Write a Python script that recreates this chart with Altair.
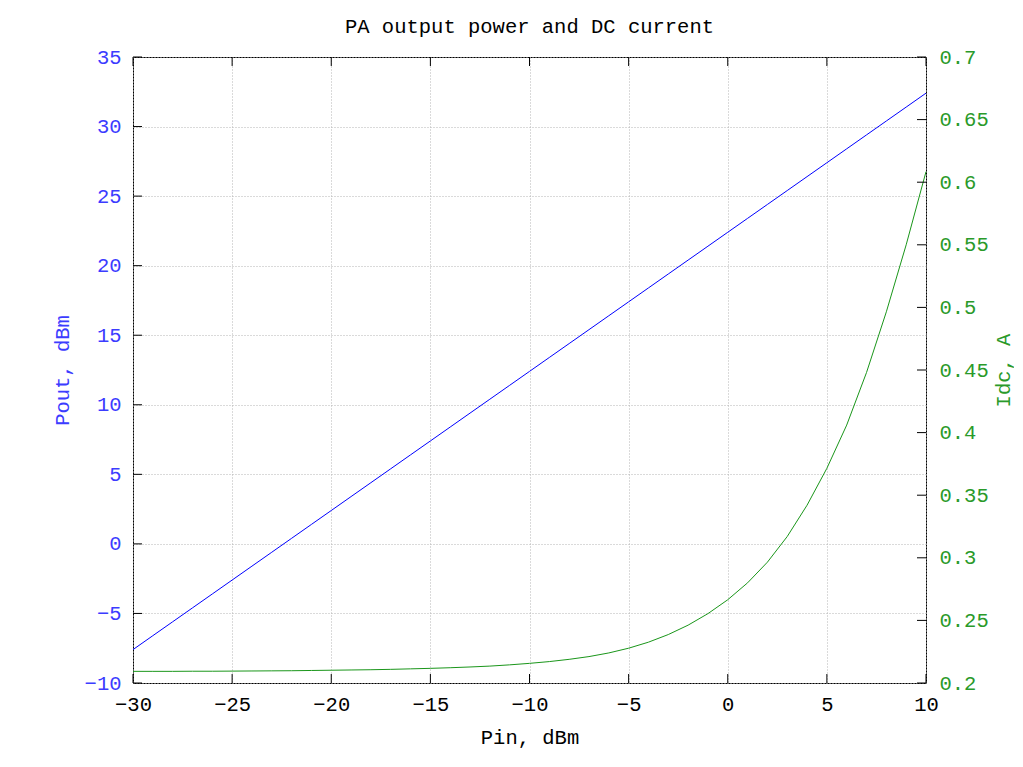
import altair as alt
import pandas as pd

# ---- data ----
pin = [-30, -29, -28, -27, -26, -25, -24, -23, -22, -21, -20, -19, -18, -17, -16, -15,
       -14, -13, -12, -11, -10, -9, -8, -7, -6, -5, -4, -3, -2, -1, 0, 1, 2, 3, 4, 5,
       6, 7, 8, 9, 10]
pout = [-7.6, -6.6, -5.6, -4.6, -3.6, -2.6, -1.6, -0.6, 0.4, 1.4, 2.4, 3.4, 4.4, 5.4,
        6.4, 7.4, 8.4, 9.4, 10.4, 11.4, 12.4, 13.4, 14.4, 15.4, 16.4, 17.4, 18.4, 19.4,
        20.4, 21.4, 22.4, 23.4, 24.4, 25.4, 26.4, 27.4, 28.4, 29.4, 30.4, 31.4, 32.4]
idc = [0.2093, 0.2093, 0.2093, 0.2094, 0.2094, 0.2095, 0.2096, 0.2097, 0.2098, 0.2100,
       0.2102, 0.2104, 0.2106, 0.2109, 0.2113, 0.2117, 0.2122, 0.2128, 0.2135, 0.2145,
       0.2157, 0.2171, 0.2189, 0.2211, 0.2240, 0.2278, 0.2326, 0.2387, 0.2462, 0.2554,
       0.2665, 0.2800, 0.2965, 0.3170, 0.3420, 0.3715, 0.4060, 0.4480, 0.4965, 0.5500,
       0.6084]
x_ticks = [-30, -25, -20, -15, -10, -5, 0, 5, 10]
y1_ticks = [-10, -5, 0, 5, 10, 15, 20, 25, 30, 35]
y2_ticks = [0.2, 0.25, 0.3, 0.35, 0.4, 0.45, 0.5, 0.55, 0.6, 0.65, 0.7]

df = pd.DataFrame({"pin": pin, "pout": pout, "idc": idc})
dfx = pd.DataFrame({"pin": x_ticks})
dfy1 = pd.DataFrame({"pout": y1_ticks})
dfy2 = pd.DataFrame({"idc": y2_ticks})

FONT = "Liberation Mono"
FS = 20.5
W, H = 793, 626
TICK = 9
BLUE = "#0000ff"
BLUE_TXT = "#3c3cff"
GREEN = "#1a961a"
GREEN_TXT = "#2a9a2a"
GRID = "#b4b4b4"

xscale = alt.Scale(domain=[-30, 10], nice=False, zero=False)
y1scale = alt.Scale(domain=[-10, 35], nice=False, zero=False)
y2scale = alt.Scale(domain=[0.2, 0.7], nice=False, zero=False)

x_axis = alt.Axis(
    values=x_ticks, title="Pin, dBm", grid=True, gridDash=[1, 2], gridColor=GRID,
    gridWidth=1, ticks=False, domain=False, labelFont=FONT, labelFontSize=FS,
    labelColor="black", labelPadding=11, labelFlush=False, labelOverlap=False,
    titleFont=FONT, titleFontSize=FS, titleFontWeight="normal", titleColor="black",
    titleY=60, titleBaseline="alphabetic",
)
y1_axis = alt.Axis(
    values=y1_ticks, title="Pout, dBm", orient="left", grid=True, gridDash=[1, 2],
    gridColor=GRID, gridWidth=1, ticks=False, domain=False, labelFont=FONT,
    labelFontSize=FS, labelColor=BLUE_TXT, labelPadding=12, labelFlush=False,
    labelOverlap=False, titleFont=FONT, titleFontSize=FS, titleFontWeight="normal",
    titleColor=BLUE_TXT, titleAngle=270, titleX=-71, titleY=H / 2,
    titleBaseline="middle", titleAlign="center",
)
y2_axis = alt.Axis(
    values=y2_ticks, title="Idc, A", orient="right", grid=False, ticks=False,
    domain=False, format=".2~f", labelFont=FONT, labelFontSize=FS,
    labelColor=GREEN_TXT, labelPadding=13, labelFlush=False, labelOverlap=False,
    titleFont=FONT, titleFontSize=FS, titleFontWeight="normal", titleColor=GREEN_TXT,
    titleAngle=270, titleX=77, titleY=H / 2, titleBaseline="middle",
    titleAlign="center",
)

X = alt.X("pin:Q", scale=xscale, axis=x_axis)
Y1 = alt.Y("pout:Q", scale=y1scale, axis=y1_axis)
Y2 = alt.Y("idc:Q", scale=y2scale, axis=y2_axis)

blue_line = alt.Chart(df).mark_line(color=BLUE, strokeWidth=1).encode(x=X, y=Y1)

xt_bottom = alt.Chart(dfx).mark_rule(color="black", strokeWidth=1).encode(
    x=X, y=alt.value(H), y2=alt.value(H - TICK),
)
xt_top = alt.Chart(dfx).mark_rule(color="black", strokeWidth=1).encode(
    x=X, y=alt.value(0), y2=alt.value(TICK),
)
y1t = alt.Chart(dfy1).mark_rule(color="black", strokeWidth=1).encode(
    y=Y1, x=alt.value(0), x2=alt.value(TICK),
)

green_line = alt.Chart(df).mark_line(color=GREEN, strokeWidth=1).encode(x=X, y=Y2)
y2t = alt.Chart(dfy2).mark_rule(color="black", strokeWidth=1).encode(
    y=Y2, x=alt.value(W), x2=alt.value(W - TICK),
)

left = alt.layer(blue_line, xt_bottom, xt_top, y1t)
right = alt.layer(green_line, y2t)

chart = alt.layer(left, right).resolve_scale(y="independent").properties(
    width=W,
    height=H,
    padding={"left": 125, "top": 49, "right": 88, "bottom": 66},
    autosize=alt.AutoSizeParams(type="none"),
    title=alt.TitleParams(
        "PA output power and DC current", font=FONT, fontSize=FS,
        fontWeight="normal", color="black", anchor="middle", frame="group",
        baseline="alphabetic", offset=0, dy=6,
    ),
).configure_view(stroke="black", strokeWidth=1)

chart.save("out.html", embed_options={"renderer": "svg", "actions": False})
